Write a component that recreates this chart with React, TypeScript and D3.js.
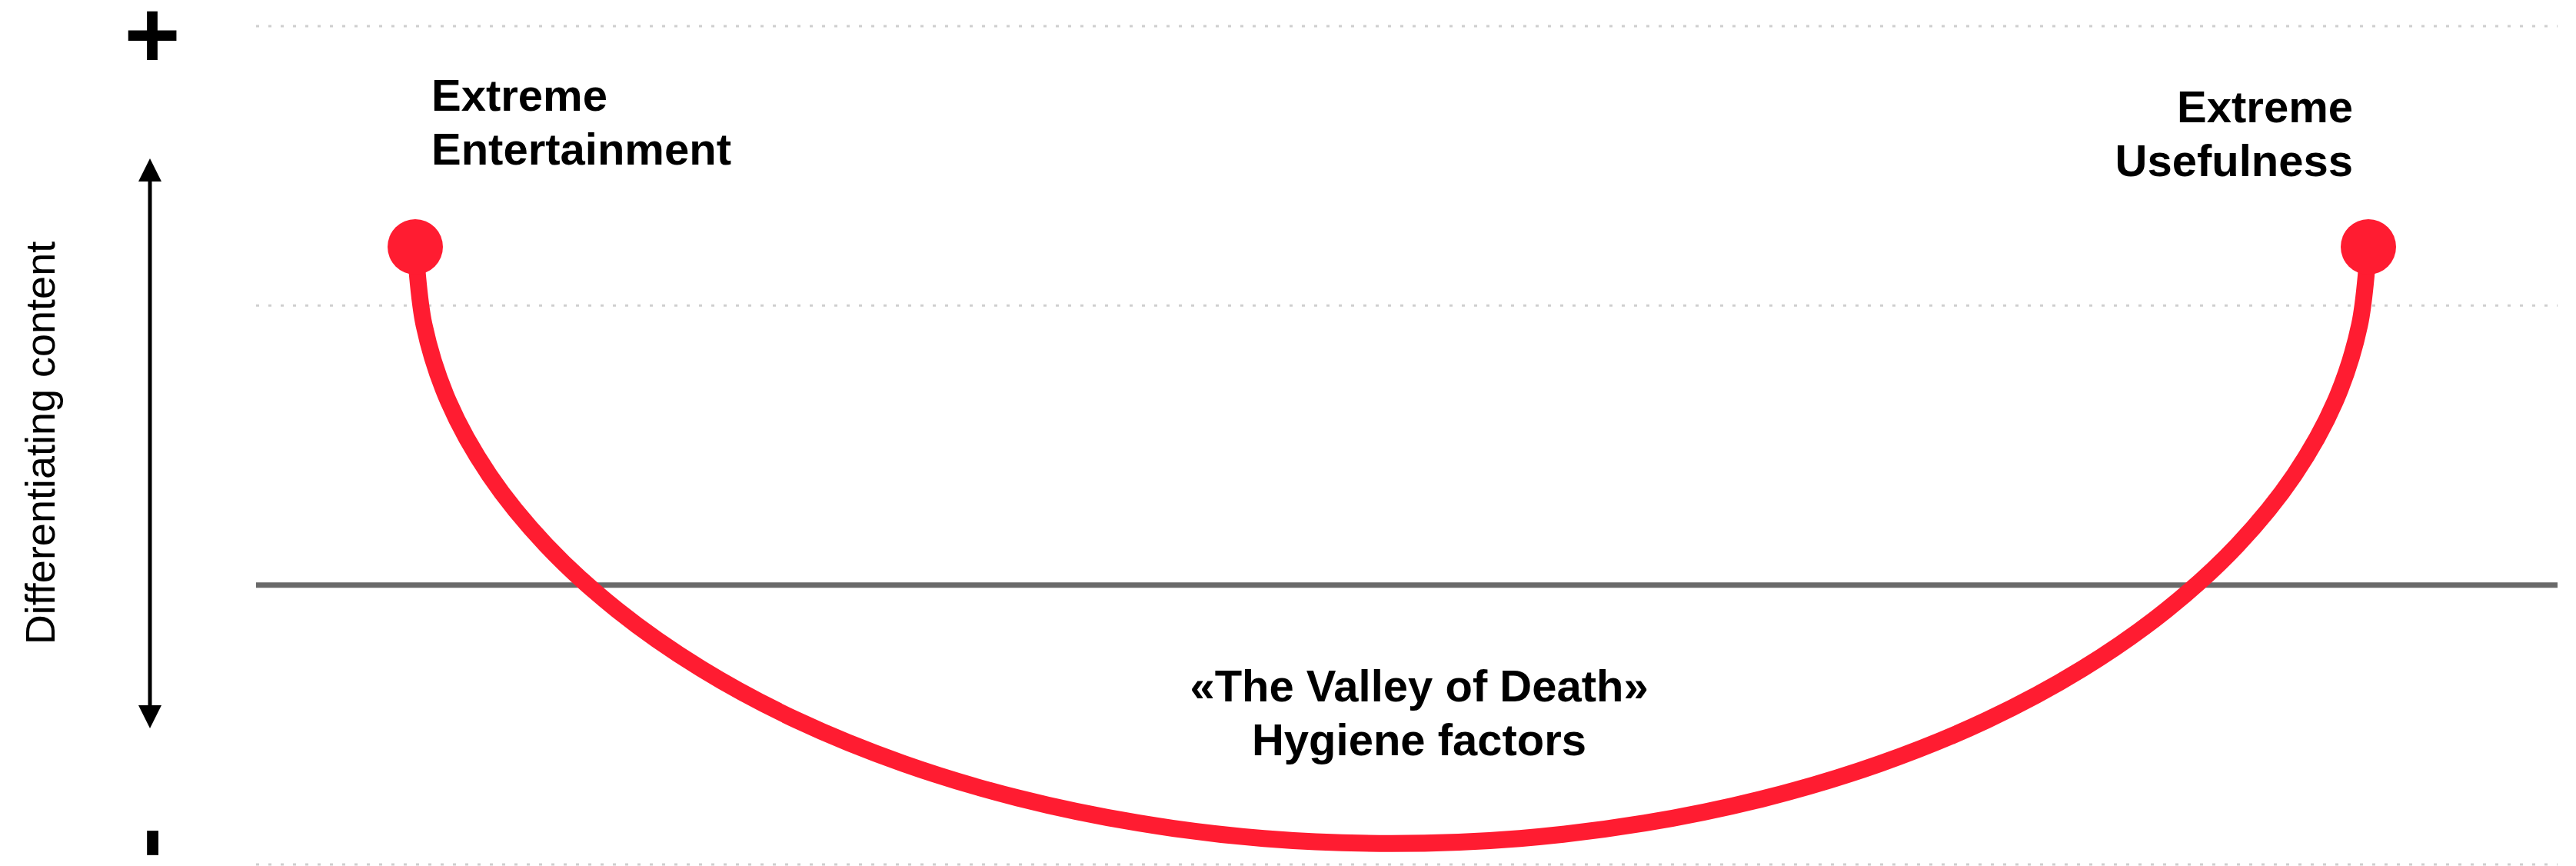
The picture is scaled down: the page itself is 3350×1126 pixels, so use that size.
import { useEffect, useRef } from "react";
import * as d3 from "d3";

// gridline levels (y units), the solid one is the baseline
const gridLevels = [0, 1, 2, 3];
const baseLevel = 1;

// the valley curve
const curveX = [-1, -0.991, -0.966, -0.924, -0.866, -0.793, -0.707, -0.609, -0.5, -0.383, -0.259, -0.131, 0,
  0.131, 0.259, 0.383, 0.5, 0.609, 0.707, 0.793, 0.866, 0.924, 0.966, 0.991, 1];
const curveY = [2.21, 1.931, 1.657, 1.393, 1.143, 0.91, 0.7, 0.516, 0.361, 0.238, 0.148, 0.093, 0.075,
  0.093, 0.148, 0.238, 0.361, 0.516, 0.7, 0.91, 1.143, 1.393, 1.657, 1.931, 2.21];

// end points and their labels
const endX = [-1, 1];
const endY = [2.21, 2.21];
const endLabels = [["Extreme", "Entertainment"], ["Extreme", "Usefulness"]];

const valleyLines = ["«The Valley of Death»", "Hygiene factors"];
const axisLabel = "Differentiating content";

const W = 3350;
const H = 1126;
const plotLeft = 333;
const plotRight = 3326;
const red = "#ff1c31";
const font = "'Liberation Sans', Arial, Helvetica, sans-serif";

const App = () => {
  const svgRef = useRef<SVGSVGElement | null>(null);

  useEffect(() => {
    document.body.style.margin = "0";
    const svg = d3.select(svgRef.current);
    svg.selectAll("*").remove(); // clear

    const x = d3.scaleLinear().domain([-1, 1]).range([540, 3080]);
    const y = d3.scaleLinear().domain([0, 3]).range([1124, 34]);

    // dotted gridlines
    svg
      .append("g")
      .selectAll("line")
      .data(gridLevels.filter((d) => d !== baseLevel))
      .enter()
      .append("line")
      .attr("x1", plotLeft)
      .attr("x2", plotRight)
      .attr("y1", (d) => y(d))
      .attr("y2", (d) => y(d))
      .attr("stroke", "#cfcfcf")
      .attr("stroke-width", 3)
      .attr("stroke-dasharray", "4,12");

    // solid baseline
    svg
      .append("line")
      .attr("x1", plotLeft)
      .attr("x2", plotRight)
      .attr("y1", y(baseLevel))
      .attr("y2", y(baseLevel))
      .attr("stroke", "#696969")
      .attr("stroke-width", 7);

    // the valley
    const pts = curveX.map((d, i) => [d, curveY[i]] as [number, number]);
    const line = d3
      .line<[number, number]>()
      .x((d) => x(d[0]))
      .y((d) => y(d[1]))
      .curve(d3.curveCatmullRom.alpha(0.5));

    svg
      .append("path")
      .attr("d", line(pts))
      .attr("fill", "none")
      .attr("stroke", red)
      .attr("stroke-width", 22);

    svg
      .append("g")
      .selectAll("circle")
      .data(endX)
      .enter()
      .append("circle")
      .attr("cx", (d) => x(d))
      .attr("cy", (d, i) => y(endY[i]))
      .attr("r", 36)
      .attr("fill", red);

    // end labels
    endLabels.forEach((lines, i) => {
      const left = i === 0;
      const t = svg
        .append("text")
        .attr("font-family", font)
        .attr("font-weight", "bold")
        .attr("font-size", 58)
        .attr("text-anchor", left ? "start" : "end");
      lines.forEach((s, j) => {
        t.append("tspan")
          .attr("x", x(endX[i]) + (left ? 21 : -20))
          .attr("y", y(endY[i]) - (left ? 177 : 162) + j * 70)
          .text(s);
      });
    });

    // valley label
    const vt = svg
      .append("text")
      .attr("font-family", font)
      .attr("font-weight", "bold")
      .attr("font-size", 58)
      .attr("text-anchor", "middle");
    valleyLines.forEach((s, j) => {
      vt.append("tspan")
        .attr("x", x(0.028))
        .attr("y", 912 + j * 70)
        .text(s);
    });

    // left axis: +, -, double arrow, label
    svg
      .append("text")
      .attr("x", 198)
      .attr("y", 88)
      .attr("font-family", font)
      .attr("font-weight", "bold")
      .attr("font-size", 125)
      .attr("text-anchor", "middle")
      .text("+");

    svg
      .append("g")
      .attr("transform", "translate(200,1096) rotate(-90)")
      .append("text")
      .attr("dy", "0.25em")
      .attr("font-family", font)
      .attr("font-weight", "bold")
      .attr("font-size", 125)
      .attr("text-anchor", "middle")
      .text("-");

    const ax = 195;
    svg
      .append("line")
      .attr("x1", ax)
      .attr("x2", ax)
      .attr("y1", 230)
      .attr("y2", 922)
      .attr("stroke", "#000")
      .attr("stroke-width", 5);
    svg
      .append("path")
      .attr("d", `M${ax},206 L${ax - 15},236 L${ax + 15},236 Z M${ax},947 L${ax - 15},917 L${ax + 15},917 Z`)
      .attr("fill", "#000");

    svg
      .append("text")
      .attr("transform", "translate(71,576) rotate(-90)")
      .attr("font-family", font)
      .attr("font-size", 54)
      .attr("text-anchor", "middle")
      .text(axisLabel);
  }, []);

  return (
    <svg
      ref={svgRef}
      width={W}
      height={H}
      style={{ position: "absolute", left: 0, top: 0, display: "block", background: "#fff" }}
    ></svg>
  );
};

export default App;
